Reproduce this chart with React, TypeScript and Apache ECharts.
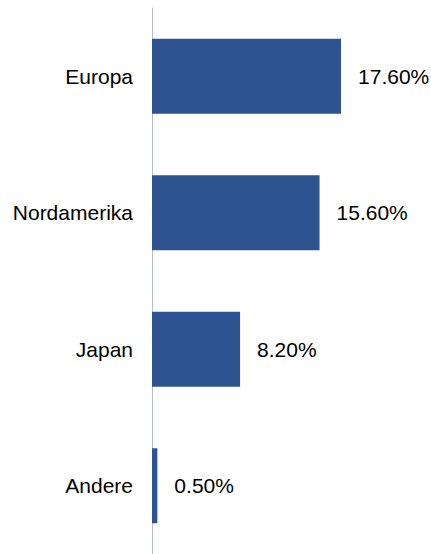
import React, { useEffect, useRef } from "react";
import * as echarts from "echarts";

const categories = ["Europa", "Nordamerika", "Japan", "Andere"];
const values = [17.6, 15.6, 8.2, 0.5];

export default function App() {
  const ref = useRef<HTMLDivElement>(null);
  useEffect(() => {
    if (!ref.current) return;
    const chart = echarts.init(ref.current, null, { renderer: "svg" });
    chart.setOption({
      animation: false,
      backgroundColor: "#ffffff",
      grid: { left: 152, top: 8, width: 268.5, height: 549 },
      xAxis: {
        type: "value",
        min: 0,
        max: 25,
        show: false,
      },
      yAxis: {
        type: "category",
        data: categories,
        inverse: true,
        axisLine: { show: true, lineStyle: { color: "#B4C0C8", width: 1 } },
        axisTick: { show: false },
        axisLabel: {
          margin: 19,
          fontSize: 21,
          color: "#000000",
          fontFamily: "Liberation Sans, Arial, sans-serif",
        },
        splitLine: { show: false },
      },
      series: [
        {
          type: "bar",
          data: values,
          barWidth: 75,
          itemStyle: { color: "#2D5490" },
          label: {
            show: true,
            position: "right",
            distance: 17,
            fontSize: 21,
            color: "#000000",
            fontFamily: "Liberation Sans, Arial, sans-serif",
            formatter: (p: any) => p.value.toFixed(2) + "%",
          },
        },
      ],
    });
    return () => chart.dispose();
  }, []);
  return (
    <div
      ref={ref}
      style={{ position: "fixed", left: 0, top: 0, width: 431, height: 554 }}
    />
  );
}
